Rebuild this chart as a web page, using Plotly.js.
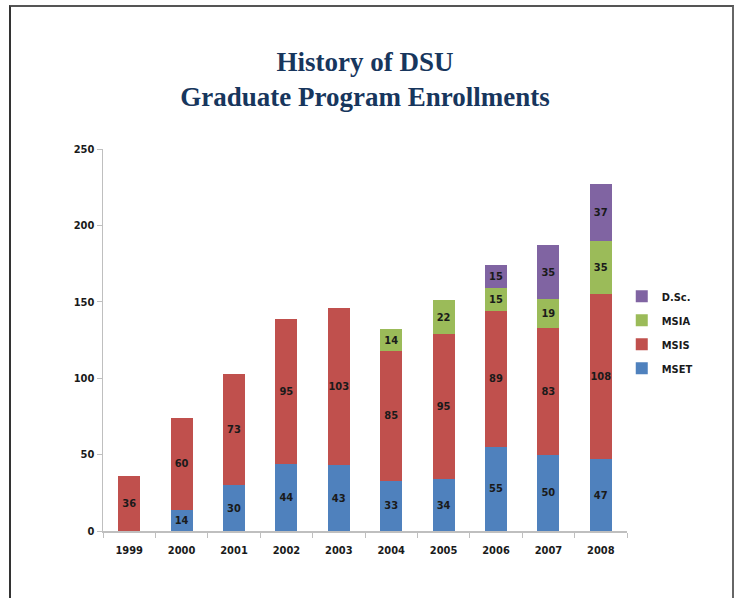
<!DOCTYPE html>
<html>
<head>
<meta charset="utf-8">
<script src="https://cdn.plot.ly/plotly-3.0.1.min.js"></script>
<style>
html,body{margin:0;padding:0;background:#fff;}
#wrap{position:relative;width:742px;height:598px;overflow:hidden;}
#frame{position:absolute;left:9px;top:5px;width:725px;height:620px;border-left:2px solid #333;border-top:2px solid #555;border-right:2px solid #666;box-sizing:border-box;pointer-events:none;}
#chart{position:absolute;left:0;top:0;width:742px;height:598px;}
</style>
</head>
<body>
<div id="wrap">
<div id="chart"></div>
<div id="frame"></div>
</div>
<script>
var years = ["1999","2000","2001","2002","2003","2004","2005","2006","2007","2008"];
var mset = [null, 14, 30, 44, 43, 33, 34, 55, 50, 47];
var msis = [36, 60, 73, 95, 103, 85, 95, 89, 83, 108];
var msia = [null, null, null, null, null, 14, 22, 15, 19, 35];
var dsc  = [null, null, null, null, null, null, null, 15, 35, 37];
var yTicks = [0, 50, 100, 150, 200, 250];

var FAM = "Liberation Sans Narrow, DejaVu Sans Condensed, sans-serif";
var labelFont = {family: FAM, size: 11, color: "#1a1a1a", weight: "bold"};

function series(name, vals, color, rank) {
  return {
    type: "bar", name: name, x: years, y: vals,
    legendgroup: name, legendrank: rank,
    marker: {color: color},
    text: vals.map(function(v){ return v === null ? "" : String(v); }),
    textposition: "inside", insidetextanchor: "middle", textangle: 0,
    textfont: labelFont, constraintext: "none",
    hoverinfo: "name+y"
  };
}

var data = [
  series("MSET", mset, "#4F81BD", 4),
  series("MSIS", msis, "#C0504D", 3),
  series("MSIA", msia, "#9BBB59", 2),
  series("D.Sc.", dsc, "#8064A2", 1)
];

var layout = {
  width: 742, height: 598,
  paper_bgcolor: "#ffffff", plot_bgcolor: "#ffffff",
  barmode: "stack", bargap: 0.58,
  margin: {l: 103, r: 115, t: 149, b: 67},
  title: {
    text: "History of DSU<br>Graduate Program Enrollments",
    font: {family: "Liberation Serif, serif", size: 27, color: "#17365D", weight: "bold"},
    x: 0.5, xanchor: "center", xref: "paper", y: 0.882, yanchor: "middle"
  },
  showlegend: true,
  legend: {
    x: 0.99, xanchor: "left", y: 0.52, yanchor: "middle",
    traceorder: "grouped",
    font: {family: FAM, size: 11, color: "#1a1a1a", weight: "bold"},
    itemwidth: 30, tracegroupgap: 5
  },
  xaxis: {
    type: "category", showgrid: false, zeroline: false,
    showline: true, linecolor: "#BFBFBF", linewidth: 1.5,
    ticks: "outside", tickson: "boundaries", ticklen: 5, tickcolor: "#BFBFBF",
    ticklabelstandoff: 8,
    tickfont: {family: FAM, size: 11, color: "#1a1a1a", weight: "bold"}
  },
  yaxis: {
    range: [0, 250], tickvals: yTicks, ticktext: yTicks.map(String),
    showgrid: false, zeroline: false,
    showline: true, linecolor: "#BFBFBF", linewidth: 1.5,
    ticks: "outside", ticklen: 5, tickcolor: "#BFBFBF",
    tickfont: {family: FAM, size: 11, color: "#1a1a1a", weight: "bold"}
  }
};

Plotly.newPlot("chart", data, layout, {displayModeBar: false, staticPlot: true});
</script>
</body>
</html>
